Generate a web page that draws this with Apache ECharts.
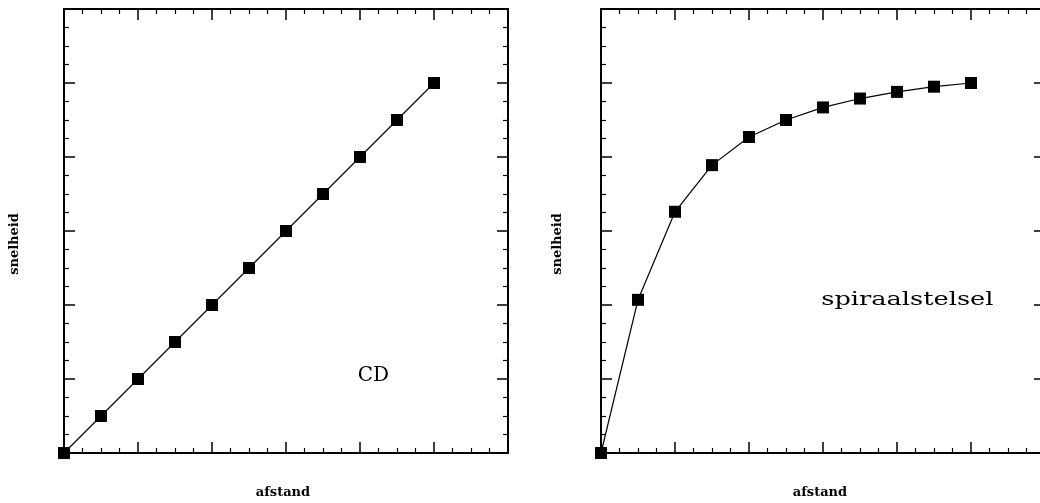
<!DOCTYPE html>
<html><head><meta charset="utf-8">
<script src="https://cdn.jsdelivr.net/npm/echarts@6/dist/echarts.min.js"></script>
<style>html,body{margin:0;padding:0;background:#fff}#c{width:1040px;height:503px}</style>
</head><body><div id="c"></div>
<script>
const xValues = [0, 0.5, 1, 1.5, 2, 2.5, 3, 3.5, 4, 4.5, 5];
const cdValues = [0, 0.5, 1, 1.5, 2, 2.5, 3, 3.5, 4, 4.5, 5];
const spiralValues = [0, 2.07, 3.26, 3.89, 4.27, 4.5, 4.67, 4.79, 4.88, 4.95, 5.0];
const xLabel = 'afstand';
const yLabel = 'snelheid';
const notes = [
  {panel: 0, text: 'CD', x: 4.18, y: 1.04},
  {panel: 1, text: 'spiraalstelsel', x: 4.14, y: 2.07}
];

const FONT = 'DejaVu Serif';
const chart = echarts.init(document.getElementById('c'), null, {renderer: 'canvas'});

function axisCommon(pos) {
  return {
    type: 'value', min: 0, max: 6, interval: 1, position: pos,
    axisLine: {show: true, onZero: false, lineStyle: {color: '#000', width: 2}},
    axisTick: {show: true, inside: true, length: 11, lineStyle: {color: '#000', width: 1.5}},
    minorTick: {show: true, splitNumber: 4, length: 5, lineStyle: {color: '#000', width: 1.2}},
    axisLabel: {show: false},
    splitLine: {show: false}
  };
}

const grids = [
  {left: 64, top: 9, width: 444, height: 444, outerBoundsMode: 'none', containLabel: false},
  {left: 601, top: 9, width: 444, height: 444, outerBoundsMode: 'none', containLabel: false}
];
const xAxes = [], yAxes = [];
grids.forEach((g, i) => {
  xAxes.push(Object.assign(axisCommon('bottom'), {gridIndex: i}));
  xAxes.push(Object.assign(axisCommon('top'), {gridIndex: i}));
  yAxes.push(Object.assign(axisCommon('left'), {gridIndex: i}));
  yAxes.push(Object.assign(axisCommon('right'), {gridIndex: i}));
});

function mkSeries(vals, gi) {
  return {
    type: 'line', xAxisIndex: gi * 2, yAxisIndex: gi * 2,
    data: xValues.map((x, k) => [x, vals[k]]),
    symbol: 'rect', symbolSize: 12, showSymbol: true,
    itemStyle: {color: '#000'},
    lineStyle: {color: '#000', width: 1.2},
    animation: false, clip: false
  };
}

chart.setOption({
  animation: false,
  grid: grids,
  xAxis: xAxes,
  yAxis: yAxes,
  series: [mkSeries(cdValues, 0), mkSeries(spiralValues, 1)]
});

const graphics = [];
notes.forEach(n => {
  const p = chart.convertToPixel({gridIndex: n.panel}, [n.x, n.y]);
  const big = n.text.length > 2;
  graphics.push({
    type: 'text', x: p[0], y: p[1], scaleX: big ? 1.35 : 1.0,
    style: {text: n.text, font: (big ? '19px' : '20px') + ' "' + FONT + '"', fill: '#000', align: 'center', verticalAlign: 'middle'}
  });
});
// axis titles
const xTitleX = [283, 820];
const yTitleX = [15, 558];
[0, 1].forEach(i => {
  graphics.push({
    type: 'text', x: xTitleX[i], y: 493,
    style: {text: xLabel, font: 'bold 13px "' + FONT + '"', fill: '#000', align: 'center', verticalAlign: 'middle'}
  });
  graphics.push({
    type: 'text', x: yTitleX[i], y: 244, rotation: Math.PI / 2,
    style: {text: yLabel, font: 'bold 13px "' + FONT + '"', fill: '#000', align: 'center', verticalAlign: 'middle'}
  });
});
chart.setOption({graphic: graphics});
</script></body></html>
